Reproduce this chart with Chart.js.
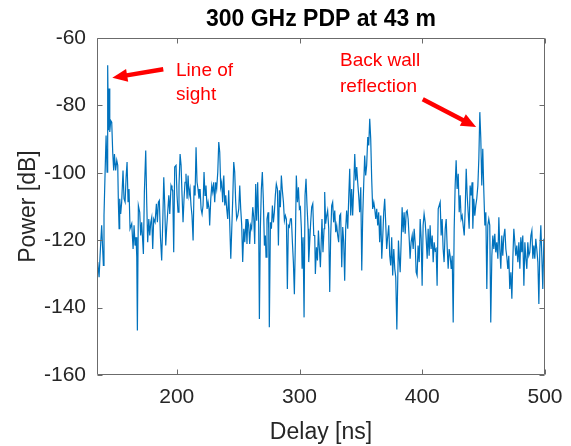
<!DOCTYPE html>
<html><head><meta charset="utf-8">
<script src="https://cdn.jsdelivr.net/npm/chart.js@4/dist/chart.umd.min.js"></script>
<style>html,body{margin:0;padding:0;background:#fff}canvas{display:block}</style>
</head><body>
<canvas id="c" width="571" height="446"></canvas>
<script>
// ---- data (delay in ns, power in dB) ----
const delay1=[135.0,135.6,136.7,137.5,138.8,140.2,140.7,141.6,142.4,143.2,143.7,144.3,144.8,145.4,146.2,147.0,147.8,148.6,149.2,150.2,151.1,151.9,152.4,153.0,153.5,154.3,155.1,156.2,157.0,157.9,158.7,159.5,160.3,161.1,161.9,163.3,164.4,165.2,166.0,166.8,167.4,167.9,168.7,169.8,170.6,171.4,172.8,173.6,174.7,175.5,176.3,177.2,178.0,178.8,179.6,180.4,181.2,182.3,183.4,184.2,185.0,185.8,186.7,187.7,188.6,189.4,190.2,191.0,191.8,192.6,193.5,194.3];
const power1=[-128.0,-126.5,-131.0,-124.6,-115.6,-127.5,-112.7,-99.8,-88.9,-99.8,-68.1,-87.4,-75.0,-87.9,-84.5,-85.0,-93.9,-99.3,-94.4,-99.3,-96.3,-97.8,-108.7,-116.6,-107.7,-112.2,-108.7,-99.3,-107.7,-108.7,-101.3,-96.8,-108.7,-104.8,-116.6,-115.1,-122.6,-115.6,-121.6,-119.1,-125.0,-146.8,-109.7,-111.7,-118.6,-114.7,-124.1,-105.7,-93.4,-108.7,-120.6,-113.7,-118.6,-114.7,-113.2,-122.6,-113.7,-114.7,-109.2,-114.7,-108.7,-108.2,-119.1,-126.0,-114.2,-101.3,-109.7,-121.6,-116.1,-111.7,-106.7,-112.2];

const delay2=[195.3,196.1,196.7,197.5,198.3,199.4,200.2,201.0,201.8,202.7,203.5,204.3,205.1,205.9,206.7,207.5,208.4,209.2,210.0,210.8,211.6,212.4,213.3,214.1,214.9,215.7,216.5,217.3,218.1,219.0,219.8,220.6,221.4,222.2,223.0,223.8,224.7,225.5,226.3,226.8,227.7,228.5,229.3,230.1,230.9,231.7,232.5,233.4,234.2,235.0,235.8,236.6,237.4,238.3,239.1,239.9,240.7,241.5,242.3,243.1,244.0,244.8,245.6,246.4,247.2,248.0,248.8,249.7,250.5,251.3,252.1,252.9,253.7,254.6,255.4];
const power2=[-103.8,-104.8,-105.2,-123.6,-98.3,-97.8,-106.7,-111.7,-103.8,-94.4,-97.8,-106.7,-114.7,-107.7,-102.8,-100.3,-107.7,-100.8,-106.7,-104.8,-109.7,-112.7,-120.1,-103.8,-106.7,-92.4,-102.8,-104.8,-107.7,-104.8,-110.7,-112.2,-109.7,-99.8,-106.7,-103.8,-110.7,-108.7,-110.7,-115.6,-107.7,-103.8,-105.7,-102.8,-108.7,-102.8,-104.8,-99.8,-90.9,-93.9,-104.3,-102.8,-108.7,-100.8,-109.7,-106.7,-110.7,-113.7,-105.2,-114.7,-125.5,-116.6,-107.7,-96.8,-99.8,-108.7,-113.7,-112.7,-110.7,-103.8,-110.7,-115.6,-126.5,-116.6,-120.6];

const delay3=[256.4,257.2,257.8,258.6,259.4,260.2,261.0,261.9,262.7,263.5,264.3,265.1,265.9,266.7,267.3,268.1,268.9,269.7,270.5,271.4,272.2,272.7,273.5,274.4,274.9,275.4,276.3,277.1,277.9,278.7,279.5,280.3,281.1,282.0,282.8,283.6,284.4,285.2,286.0,286.9,287.7,288.5,289.3,290.1,290.9,291.7,292.6,293.4,294.2,295.0,295.8,296.6,297.4,298.3,299.1,299.9,300.7,301.5,302.1,302.9,303.7,304.5,305.3,306.1,307.0,307.5,308.3,309.1,309.9,310.8,311.6,312.4,312.9,313.8,314.6,315.4,316.2,317.0];
const power3=[-113.7,-121.1,-113.7,-115.6,-121.1,-115.6,-116.6,-110.2,-113.2,-121.1,-103.3,-114.2,-102.8,-114.7,-143.4,-116.6,-104.8,-99.8,-107.7,-121.6,-118.6,-125.0,-113.7,-111.7,-116.6,-145.8,-114.7,-116.6,-109.7,-114.7,-111.7,-106.7,-103.3,-104.8,-121.6,-105.2,-110.2,-100.8,-105.2,-108.7,-114.2,-112.7,-113.7,-134.5,-115.6,-116.1,-113.7,-113.7,-120.6,-126.5,-136.0,-120.6,-100.8,-108.7,-104.3,-110.7,-110.2,-116.6,-128.5,-119.1,-142.9,-106.7,-101.8,-109.7,-116.6,-126.5,-120.6,-114.7,-110.2,-109.2,-118.6,-118.6,-130.0,-122.1,-126.0,-117.1,-122.6,-128.0];

const delay4=[318.3,319.1,320.0,320.5,321.3,322.1,322.9,323.8,324.6,325.4,326.2,327.0,327.8,328.7,329.5,330.3,331.1,331.9,332.7,333.5,334.4,335.2,336.0,336.8,337.6,338.4,339.3,340.1,340.9,341.7,342.5,343.3,344.1,345.0,345.8,346.6,347.4,348.2,349.0,349.9,350.7,351.5,352.3,353.1,353.9,354.7,355.6,356.4,357.2,358.0,358.8,359.6,360.5,361.3,362.1,362.9,363.7,364.5,365.3,366.2,367.0,367.8,368.6,369.4,370.2,371.0,371.9,372.7,373.5,374.3,375.1,375.9,376.8,377.6,378.4,379.3];
const power4=[-113.7,-123.6,-116.6,-105.7,-115.1,-112.7,-111.2,-116.6,-135.4,-118.6,-109.7,-108.7,-114.7,-111.2,-117.6,-115.6,-118.6,-120.6,-112.7,-112.2,-128.0,-116.1,-120.6,-132.0,-116.6,-111.2,-116.6,-107.2,-98.8,-112.7,-104.8,-112.7,-104.8,-94.4,-102.3,-98.3,-102.8,-106.7,-111.7,-104.3,-129.0,-112.7,-103.3,-94.9,-100.8,-97.8,-89.4,-91.9,-84.0,-89.9,-101.8,-110.7,-108.7,-110.7,-113.7,-110.7,-115.6,-111.7,-120.6,-112.7,-125.5,-119.1,-111.7,-107.7,-114.7,-122.6,-118.6,-115.6,-124.6,-127.5,-119.1,-130.5,-122.6,-128.5,-131.0,-146.5];

const delay5=[380.6,381.2,382.0,382.8,383.6,384.4,385.2,386.1,386.9,387.7,388.5,389.3,390.1,390.9,391.8,392.6,393.4,394.2,395.0,395.8,396.6,397.5,398.3,399.1,399.9,400.7,401.5,402.4,403.2,404.0,404.8,405.6,406.4,407.2,408.1,408.9,409.7,410.5,411.3,412.1,413.0,413.8,414.6,415.4,416.2,417.0,417.8,418.7,419.5,420.3,421.1,421.9,422.7,423.6,424.4,425.2,426.0,426.8,427.6,428.4,429.3,430.1,430.9,431.7,432.5,433.3,434.2,435.0,435.8,436.6,437.4,438.2];
const power5=[-120.1,-124.6,-129.5,-120.6,-110.2,-117.6,-111.7,-118.1,-111.7,-111.2,-113.7,-119.1,-125.5,-120.6,-118.6,-122.6,-116.6,-120.6,-129.5,-130.5,-121.6,-126.5,-113.7,-119.6,-133.5,-115.6,-112.2,-114.7,-119.6,-125.5,-116.6,-124.6,-115.6,-122.6,-118.6,-126.5,-120.6,-123.1,-122.6,-133.5,-110.7,-109.7,-108.7,-118.6,-113.7,-122.6,-126.5,-116.6,-113.7,-122.1,-128.5,-122.6,-124.6,-128.5,-124.6,-144.4,-116.6,-103.8,-96.3,-104.8,-100.3,-111.7,-106.7,-113.7,-112.7,-115.6,-118.6,-110.7,-98.8,-106.7,-111.7,-116.6];

const delay6=[439.0,439.8,440.6,441.2,442.0,442.8,443.6,444.4,445.3,446.1,446.9,447.7,448.5,449.3,450.1,451.0,451.8,452.6,453.4,454.2,455.0,455.8,456.7,457.5,458.3,459.1,459.9,460.7,461.6,462.4,463.2,464.0,464.8,465.6,466.4,467.3,468.1,468.9,469.7,470.5,471.3,472.2,473.0,473.8,474.6,475.4,476.2,477.0,477.9,478.7,479.5,480.3,481.1,481.9,482.8,483.6,484.4,485.2,486.0,486.8,487.6,488.5,489.3,490.1,490.9,491.7,492.5,493.3,494.2,495.0,495.8,496.6,497.4,498.2,499.1,499.9];
const power6=[-103.8,-106.7,-102.8,-116.6,-107.7,-112.7,-109.7,-107.7,-103.8,-95.8,-82.0,-89.9,-103.8,-92.9,-104.8,-115.6,-111.7,-134.5,-115.6,-113.7,-115.6,-144.4,-124.6,-118.6,-122.6,-118.1,-123.6,-120.6,-125.5,-113.2,-122.6,-128.5,-118.6,-124.6,-119.1,-116.6,-122.6,-125.0,-128.5,-124.6,-134.5,-129.5,-137.4,-125.5,-116.6,-120.6,-124.6,-121.6,-126.5,-120.6,-128.5,-119.1,-123.6,-118.6,-133.5,-120.6,-125.5,-128.5,-120.6,-124.6,-123.6,-118.6,-117.1,-125.5,-121.6,-125.5,-119.6,-122.6,-126.5,-138.9,-122.6,-115.6,-124.6,-134.5,-119.6,-125.5];

const xTicks=[200,300,400,500];
const yTicks=[-160,-140,-120,-100,-80,-60];
const titleText='300 GHz PDP at 43 m';
const xLabel='Delay [ns]';
const yLabel='Power [dB]';

// ---- build points ----
const delays=[].concat(delay1,delay2,delay3,delay4,delay5,delay6);
const powers=[].concat(power1,power2,power3,power4,power5,power6);
const pts=[];
for(let i=0;i<Math.min(delays.length,powers.length);i++) pts.push({x:delays[i],y:powers[i]});

const FONT="'Liberation Sans', Arial, Helvetica, sans-serif";
Chart.defaults.font.family=FONT;

// annotations (positions in data units)
const notes=[
  {lines:['Line of','sight'], x:199.4, y:[-71.3,-78.3]},
  {lines:['Back wall','reflection'], x:333.0, y:[-68.2,-75.9]}
];
const arrows=[
  {from:[189.0,-69.3], to:[147.5,-71.8]},
  {from:[400.4,-78.2], to:[443.9,-86.4]}
];

const axesBox={
  id:'axesBox',
  afterDatasetsDraw(chart){
    const {ctx,chartArea:a,scales:{x,y}}=chart;
    ctx.save();
    ctx.strokeStyle='#6b6b6b';
    ctx.lineWidth=1;
    const L=Math.round(a.left)+0.5,R=Math.round(a.right)-0.5,T=Math.round(a.top)+0.5,B=Math.round(a.bottom)-0.5;
    ctx.beginPath();
    ctx.rect(L,T,R-L,B-T);
    const tl=5;
    xTicks.forEach(v=>{const p=Math.round(x.getPixelForValue(v))+0.5;ctx.moveTo(p,B);ctx.lineTo(p,B-tl);ctx.moveTo(p,T);ctx.lineTo(p,T+tl);});
    yTicks.forEach(v=>{const p=Math.round(y.getPixelForValue(v))+0.5;ctx.moveTo(L,p);ctx.lineTo(L+tl,p);ctx.moveTo(R,p);ctx.lineTo(R-tl,p);});
    ctx.stroke();
    // annotations
    ctx.fillStyle='#ff0000';
    ctx.strokeStyle='#ff0000';
    ctx.font='19px '+FONT;
    ctx.textBaseline='alphabetic';
    ctx.textAlign='left';
    notes.forEach(n=>{n.lines.forEach((t,i)=>ctx.fillText(t,x.getPixelForValue(n.x),y.getPixelForValue(n.y[i])));});
    arrows.forEach(ar=>{
      const x1=x.getPixelForValue(ar.from[0]),y1=y.getPixelForValue(ar.from[1]);
      const x2=x.getPixelForValue(ar.to[0]),y2=y.getPixelForValue(ar.to[1]);
      const ang=Math.atan2(y2-y1,x2-x1);
      const hl=15,hw=6.5;
      const bx=x2-hl*Math.cos(ang),by=y2-hl*Math.sin(ang);
      ctx.lineWidth=4.5;
      ctx.lineCap='butt';
      ctx.beginPath();ctx.moveTo(x1,y1);ctx.lineTo(bx+2*Math.cos(ang),by+2*Math.sin(ang));ctx.stroke();
      ctx.beginPath();
      ctx.moveTo(x2,y2);
      ctx.lineTo(bx+hw*Math.sin(ang),by-hw*Math.cos(ang));
      ctx.lineTo(bx-hw*Math.sin(ang),by+hw*Math.cos(ang));
      ctx.closePath();ctx.fill();
    });
    ctx.restore();
  }
};

new Chart(document.getElementById('c'),{
  type:'line',
  data:{datasets:[{data:pts,borderColor:'#0072BD',borderWidth:1.2,pointRadius:0,tension:0,fill:false}]},
  options:{
    responsive:false,animation:false,devicePixelRatio:1,
    layout:{padding:{left:0,right:26,top:0,bottom:0}},
    plugins:{
      legend:{display:false},tooltip:{enabled:false},
      title:{display:true,text:titleText,fullSize:false,color:'#000',font:{size:23,weight:'bold',family:FONT},padding:{top:6,bottom:4.4}}
    },
    scales:{
      x:{type:'linear',min:135,max:500,
        afterBuildTicks(s){s.ticks=xTicks.map(v=>({value:v}));},
        afterFit(s){s.height=71;},
        grid:{display:false},border:{display:false},
        ticks:{color:'#262626',font:{size:21},padding:2,maxRotation:0,callback:v=>String(v)},
        title:{display:true,text:xLabel,color:'#262626',font:{size:23},padding:{top:0,bottom:0}}
      },
      y:{type:'linear',min:-160,max:-60,
        afterBuildTicks(s){s.ticks=yTicks.map(v=>({value:v}));},
        afterFit(s){s.width=97;},
        grid:{display:false},border:{display:false},
        ticks:{color:'#262626',font:{size:21},padding:3,callback:v=>String(v)},
        title:{display:true,text:yLabel,color:'#262626',font:{size:23},padding:{top:15,bottom:0}}
      }
    }
  },
  plugins:[axesBox]
});
</script>
</body></html>
